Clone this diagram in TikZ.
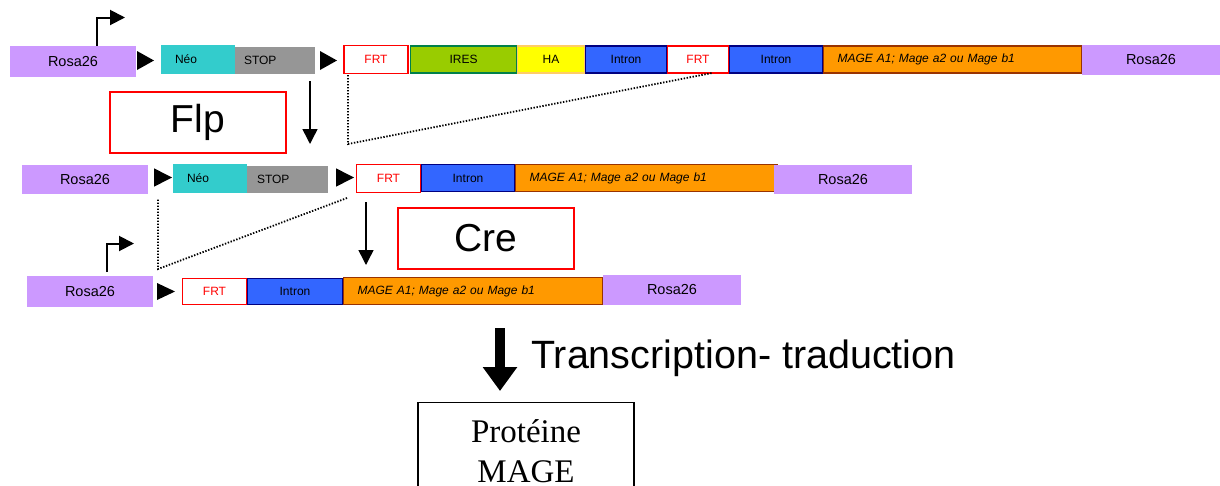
\documentclass[tikz,border=0pt]{standalone}
\usepackage{fontspec}
\setmainfont{Liberation Sans}
\newfontfamily\serifx{Liberation Serif}
\usetikzlibrary{arrows.meta}
\definecolor{rosac}{HTML}{CC99FF}
\definecolor{neoc}{HTML}{33CCCC}
\definecolor{stopc}{HTML}{969696}
\definecolor{iresc}{HTML}{99CC00}
\definecolor{iresb}{HTML}{00804A}
\definecolor{hac}{HTML}{FFFF00}
\definecolor{hab}{HTML}{FFCC66}
\definecolor{intc}{HTML}{3366FF}
\definecolor{intb}{HTML}{000080}
\definecolor{magec}{HTML}{FF9900}
\definecolor{mageb}{HTML}{993300}
\definecolor{frtc}{HTML}{FF0000}
\begin{document}
\begin{tikzpicture}[x=1pt,y=-1pt,
  gbox/.style={rectangle, inner sep=0pt, font=\fontsize{12}{14}\selectfont, text=black},
  rosabox/.style={gbox, fill=rosac, font=\fontsize{14.5}{17}\selectfont},
  neobox/.style={gbox, fill=neoc, inner xsep=14pt, align=left},
  stopbox/.style={gbox, fill=stopc, inner xsep=12pt, align=left},
  frtbox/.style={gbox, fill=white, draw=frtc, line width=1.6pt, text=frtc},
  iresbox/.style={gbox, fill=iresc, draw=iresb, line width=1.6pt},
  habox/.style={gbox, fill=hac, draw=hab, line width=1.2pt},
  intbox/.style={gbox, fill=intc, draw=intb, line width=1.6pt},
  magebox/.style={gbox, fill=magec, draw=mageb, line width=1.4pt, inner xsep=14pt, align=left, font=\fontsize{12}{14}\selectfont\itshape},
  enzbox/.style={rectangle, draw=frtc, line width=1.8pt, fill=white, font=\fontsize{39}{44}\selectfont},
  thinarrow/.style={line width=1.5pt, -{Triangle[width=15pt,length=15pt]}},
  promarrow/.style={line width=2pt, -{Triangle[width=15pt,length=15pt]}},
  dotline/.style={line width=1.8pt, dash pattern=on 1.4pt off 1.6pt},
  tipfill/.style={fill=black}
]
\clip (0,0) rectangle (1220,485);
\useasboundingbox (0,0) rectangle (1220,485);

% ---------- Row 1 ----------
\node[rosabox, minimum width=126pt, minimum height=31pt] (r1a) at (73,61.5) {Rosa26};
\node[stopbox, minimum width=83pt, minimum height=27pt, text width=59pt] (stop1) at (273.5,60.5) {STOP};
\node[neobox, minimum width=74pt, minimum height=29pt, text width=46pt] (neo1) at (198,59.5) {Néo};
\node[frtbox, minimum width=64pt, minimum height=28pt] (frt1a) at (376,59.5) {FRT};
\node[iresbox, minimum width=106pt, minimum height=27pt] (ires1) at (463.5,59.5) {IRES};
\node[habox, minimum width=67pt, minimum height=27pt] (ha1) at (551,59.5) {HA};
\node[intbox, minimum width=81pt, minimum height=27pt] (int1a) at (626,59.5) {Intron};
\node[frtbox, minimum width=61pt, minimum height=27pt] (frt1b) at (698,59.5) {FRT};
\node[intbox, minimum width=93pt, minimum height=27pt] (int1b) at (776,59.5) {Intron};
\node[magebox, minimum width=258pt, minimum height=27pt, text width=230pt] (mage1) at (952.5,59.5) {MAGE A1; Mage a2 ou Mage b1};
\node[rosabox, minimum width=138pt, minimum height=30pt] (r1b) at (1151,60) {Rosa26};

\fill[tipfill] (137,51) -- (154,60.5) -- (137,70) -- cycle;
\fill[tipfill] (320,51) -- (337,60.5) -- (320,70) -- cycle;

\coordinate (p1) at (97,17.5);
\coordinate (p1e) at (125,17.5);
\draw[promarrow] (r1a.north -| p1) -- (p1) -- (p1e);

% Flp step
\node[enzbox, minimum width=176pt, minimum height=61pt] (flp) at (198,122.5) {Flp};
\coordinate (fa1) at (310,81);
\coordinate (fa2) at (310,144);
\draw[thinarrow] (fa1) -- (fa2);

\coordinate (d1a) at (348,75);
\coordinate (d1b) at (348,144);
\coordinate (d1c) at (712,73);
\draw[dotline] (d1a) -- (d1b) -- (d1c);

% ---------- Row 2 ----------
\node[rosabox, minimum width=126pt, minimum height=29pt] (r2a) at (85,179.5) {Rosa26};
\node[stopbox, minimum width=83pt, minimum height=27pt, text width=59pt] (stop2) at (286.5,179.5) {STOP};
\node[neobox, minimum width=74pt, minimum height=29pt, text width=46pt] (neo2) at (210,178.5) {Néo};
\node[frtbox, minimum width=64pt, minimum height=28pt] (frt2) at (388.5,178.5) {FRT};
\node[intbox, minimum width=93pt, minimum height=27pt] (int2) at (468,178) {Intron};
\node[magebox, minimum width=262pt, minimum height=27pt, text width=234pt] (mage2) at (646.5,178) {MAGE A1; Mage a2 ou Mage b1};
\node[rosabox, minimum width=138pt, minimum height=29pt] (r2b) at (843,179.5) {Rosa26};

\fill[tipfill] (154,168.3) -- (172,177.5) -- (154,186.7) -- cycle;
\fill[tipfill] (336,168.3) -- (354,177.5) -- (336,186.7) -- cycle;

% Cre step
\node[enzbox, minimum width=176pt, minimum height=61pt] (cre) at (486,238.5) {Cre};
\coordinate (ca1) at (366,202);
\coordinate (ca2) at (366,265);
\draw[thinarrow] (ca1) -- (ca2);

\coordinate (d2a) at (347,198);
\coordinate (d2b) at (158,269);
\coordinate (d2c) at (158,198);
\draw[dotline] (d2a) -- (d2b) -- (d2c);

% ---------- Row 3 ----------
\node[rosabox, minimum width=126pt, minimum height=31pt] (r3a) at (90,291.5) {Rosa26};
\node[frtbox, minimum width=64pt, minimum height=26pt] (frt3) at (214.5,291.5) {FRT};
\node[intbox, minimum width=95pt, minimum height=26pt] (int3) at (295,291.5) {Intron};
\node[magebox, minimum width=259pt, minimum height=27pt, text width=231pt] (mage3) at (473,291) {MAGE A1; Mage a2 ou Mage b1};
\node[rosabox, minimum width=138pt, minimum height=30pt] (r3b) at (672,290) {Rosa26};

\fill[tipfill] (157,283) -- (175,291.5) -- (157,300) -- cycle;

\coordinate (p3a) at (107,272);
\coordinate (p3) at (107,243.5);
\coordinate (p3e) at (134,243.5);
\draw[promarrow] (p3a) -- (p3) -- (p3e);

% ---------- Transcription ----------
\coordinate (ta) at (500,328);
\coordinate (tb) at (500,391);
\draw[line width=10pt, -{Triangle[width=33pt,length=24pt]}] (ta) -- (tb);
\node[anchor=base west, inner sep=0pt, font=\fontsize{39.5}{44}\selectfont] (trans) at (531,368) {Transcription- traduction};

\node[draw, line width=1.3pt, anchor=north, minimum width=216pt, inner ysep=17pt, align=center,
      font=\serifx\fontsize{33}{39.6}\selectfont] (prot) at (526,402) {Protéine\\MAGE\\[4pt]};
\end{tikzpicture}
\end{document}
